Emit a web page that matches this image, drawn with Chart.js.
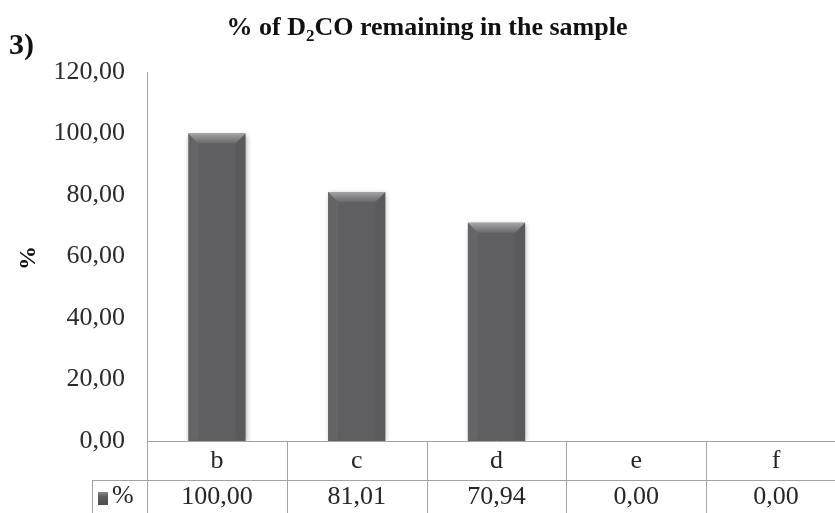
<!DOCTYPE html>
<html>
<head>
<meta charset="utf-8">
<script src="https://cdn.jsdelivr.net/npm/chart.js@4.4.1/dist/chart.umd.min.js"></script>
<style>
  html, body { margin: 0; padding: 0; background: #fff; overflow: hidden; }
  #wrap { width: 846px; height: 513px; }
</style>
</head>
<body>
<div id="wrap"><canvas id="c" width="846" height="513"></canvas></div>
<script>
// --- data ---
const categories = ['b', 'c', 'd', 'e', 'f'];
const values = [100.00, 81.01, 70.94, 0.00, 0.00];
const seriesName = '%';
const yTicks = [0, 20, 40, 60, 80, 100, 120];

const SERIF = '"Liberation Serif", "Times New Roman", serif';
const LINE = '#a3a3a3';
const TEXT = '#262626';

// comma decimal like the original
function fmt(v) {
  return v.toFixed(2).replace('.', ',');
}

// --- title, panel number, axis title, data table ---
const decor = {
  id: 'decor',
  beforeDatasetsDraw(chart) {
    const ctx = chart.ctx;
    ctx.save();
    ctx.shadowColor = 'rgba(0,0,0,0.3)';
    ctx.shadowBlur = 5;
    ctx.shadowOffsetX = 1;
    ctx.shadowOffsetY = 1;
  },
  afterDatasetsDraw(chart) {
    const ctx = chart.ctx;
    ctx.restore();
    // bevel on top of each bar
    const bars = chart.getDatasetMeta(0).data;
    bars.forEach(bar => {
      const h = bar.base - bar.y;
      if (h < 2) return;
      const l = bar.x - bar.width / 2, r = bar.x + bar.width / 2, t = bar.y;
      const b = Math.min(10, h / 2);
      const g = ctx.createLinearGradient(0, t, 0, t + b);
      g.addColorStop(0, '#a4a4a6');
      g.addColorStop(1, '#69696b');
      ctx.fillStyle = g;
      ctx.beginPath();
      ctx.moveTo(l, t); ctx.lineTo(r, t); ctx.lineTo(r - b, t + b); ctx.lineTo(l + b, t + b);
      ctx.closePath(); ctx.fill();
      // faint side edges
      ctx.fillStyle = 'rgba(255,255,255,0.04)';
      ctx.beginPath();
      ctx.moveTo(l, t); ctx.lineTo(l + b, t + b); ctx.lineTo(l + b, bar.base - 2); ctx.lineTo(l, bar.base);
      ctx.closePath(); ctx.fill();
      ctx.fillStyle = 'rgba(0,0,0,0.05)';
      ctx.beginPath();
      ctx.moveTo(r, t); ctx.lineTo(r - b, t + b); ctx.lineTo(r - b, bar.base - 2); ctx.lineTo(r, bar.base);
      ctx.closePath(); ctx.fill();
    });
  },
  afterDraw(chart) {
    const ctx = chart.ctx;
    const area = chart.chartArea;
    const xs = chart.scales.x;
    const n = categories.length;
    const colW = (area.right - area.left) / n;
    const row1 = area.bottom, row2 = 480, rowEnd = chart.height;
    const keyLeft = 92;

    ctx.save();
    // panel number
    ctx.fillStyle = '#111';
    ctx.font = 'bold 30px ' + SERIF;
    ctx.textAlign = 'left';
    ctx.textBaseline = 'alphabetic';
    ctx.fillText('3)', 9, 54);

    // title with subscript 2
    const parts = [['% of D', 26, 0], ['2', 17, 6], ['CO remaining in the sample', 26, 0]];
    let total = 0;
    parts.forEach(p => { ctx.font = 'bold ' + p[1] + 'px ' + SERIF; total += ctx.measureText(p[0]).width; });
    let tx = 427 - total / 2;
    parts.forEach(p => {
      ctx.font = 'bold ' + p[1] + 'px ' + SERIF;
      ctx.fillText(p[0], tx, 35 + p[2]);
      tx += ctx.measureText(p[0]).width;
    });

    // y axis title
    ctx.save();
    ctx.translate(29, 258);
    ctx.rotate(-Math.PI / 2);
    ctx.font = 'bold 24px ' + SERIF;
    ctx.textAlign = 'center';
    ctx.textBaseline = 'middle';
    ctx.fillText('%', 0, 0);
    ctx.restore();

    // table lines
    ctx.strokeStyle = LINE;
    ctx.lineWidth = 1;
    ctx.beginPath();
    ctx.moveTo(area.left, row1 + 0.5); ctx.lineTo(area.right, row1 + 0.5);
    ctx.moveTo(keyLeft, row2 + 0.5); ctx.lineTo(area.right, row2 + 0.5);
    ctx.moveTo(keyLeft + 0.5, row2); ctx.lineTo(keyLeft + 0.5, rowEnd);
    for (let i = 0; i <= n; i++) {
      const x = Math.round(xs.getPixelForValue(i) - colW / 2) + 0.5;
      ctx.moveTo(x, row1); ctx.lineTo(x, rowEnd);
    }
    ctx.stroke();

    // table text
    ctx.fillStyle = TEXT;
    ctx.font = '26px ' + SERIF;
    ctx.textAlign = 'center';
    ctx.textBaseline = 'middle';
    categories.forEach((c, i) => {
      const x = xs.getPixelForValue(i);
      ctx.fillText(c, x, (row1 + row2) / 2 + 1);
      ctx.fillText(fmt(values[i]), x, 497);
    });

    // legend key + series name
    const kg = ctx.createLinearGradient(0, 492, 0, 505);
    kg.addColorStop(0, '#8a8a8c');
    kg.addColorStop(0.35, '#5e5e60');
    kg.addColorStop(1, '#4e4e50');
    ctx.fillStyle = kg;
    ctx.fillRect(98, 492, 10, 13);
    ctx.fillStyle = TEXT;
    ctx.textAlign = 'left';
    ctx.fillText(seriesName, 112, 496);
    ctx.restore();
  }
};

const chart = new Chart(document.getElementById('c'), {
  type: 'bar',
  data: {
    labels: categories,
    datasets: [{
      label: seriesName,
      data: values,
      backgroundColor: '#5f5f61',
      borderWidth: 0,
      barPercentage: 0.41,
      categoryPercentage: 1
    }]
  },
  options: {
    responsive: false,
    animation: false,
    layout: { padding: { left: 0, right: 0, top: 72, bottom: 72 } },
    plugins: {
      legend: { display: false },
      title: { display: false },
      tooltip: { enabled: false }
    },
    scales: {
      x: { display: false },
      y: {
        min: 0,
        max: 120,
        afterFit(scale) { scale.width = 147; },
        afterBuildTicks(scale) { scale.ticks = yTicks.map(v => ({ value: v })); },
        grid: { display: false, drawTicks: false },
        border: { display: true, color: LINE, width: 1 },
        ticks: {
          padding: 22,
          color: '#2b2b2b',
          font: { family: SERIF, size: 26 },
          callback: v => fmt(v)
        }
      }
    }
  },
  plugins: [decor]
});
</script>
</body>
</html>
